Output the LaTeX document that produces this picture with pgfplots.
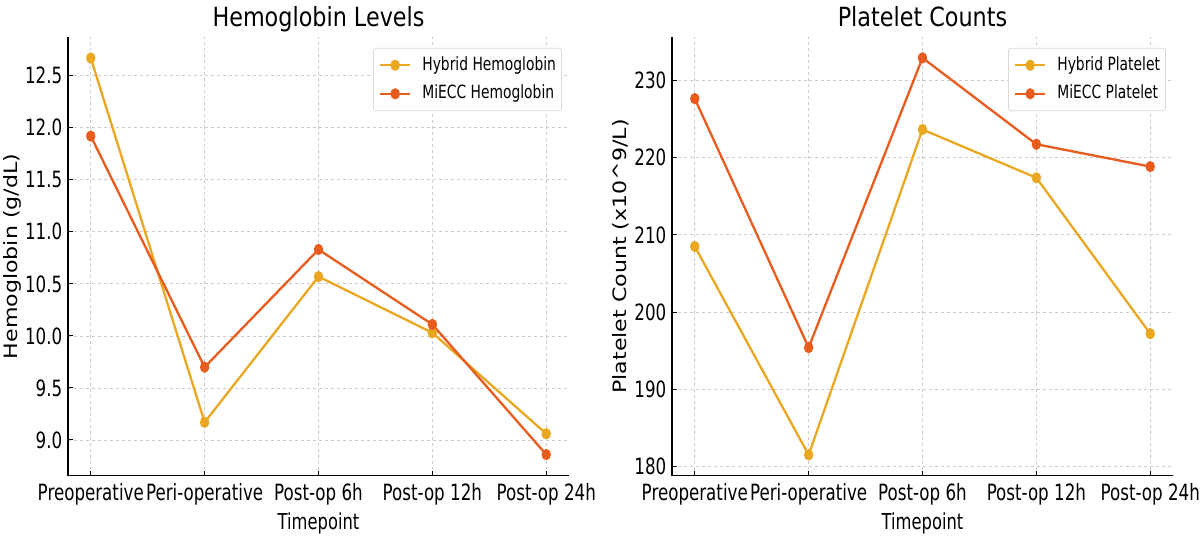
\documentclass[border=0pt]{standalone}
\usepackage{pgfplots}
\pgfplotsset{compat=1.18}
\usepackage{fontspec}
\setmainfont{DejaVu Sans}
\newfontfamily\hfont[FakeStretch=0.745]{DejaVu Sans}
\newfontfamily\tfont[FakeStretch=0.845]{DejaVu Sans}
\newfontfamily\lfont[FakeStretch=0.76]{DejaVu Sans}
\newfontfamily\vfont[FakeStretch=1.2]{DejaVu Sans}
\definecolor{hyb}{RGB}{234,167,34}
\definecolor{mie}{RGB}{232,92,30}
\definecolor{gridc}{RGB}{204,204,204}
\pgfplotsset{
  mystyle/.style={
    scale only axis, width=501bp, height=438.4bp, anchor=south west,
    axis x line*=bottom, axis y line*=left,
    axis line style={line width=1.3bp, black, -},
    xmin=-0.2, xmax=4.2, xtick={0,1,2,3,4},
    xticklabels={Preoperative,Peri-operative,Post-op 6h,Post-op 12h,Post-op 24h},
    grid=major, major grid style={dashed, gridc, line width=0.8bp},
    tick align=inside, major tick length=5bp, tick style={black, line width=1bp},
    ticklabel style={font=\hfont\fontsize{22.5}{26}\selectfont},
    /pgf/number format/assume math mode=true,
    xticklabel style={anchor=base, yshift=-24.3bp, inner sep=0pt},
    yticklabel style={anchor=east, inner sep=0pt, xshift=-5.5bp},
    every axis title/.style={font=\tfont\fontsize{26.5}{32}\selectfont, at={(axis description cs:0.5,1)}, anchor=base, yshift=10.6bp},
    every axis x label/.style={font=\hfont\fontsize{22}{26}\selectfont, at={(axis description cs:0.5,0)}, anchor=base, yshift=-53.6bp},
    xlabel={Timepoint},
    legend style={at={(0.986,0.976)}, anchor=north east,
      font=\lfont\fontsize{18.3}{22}\selectfont, draw=black!15, rounded corners=2.5bp,
      fill=white, inner xsep=5.6bp, inner ysep=8bp, row sep=10.6bp, column sep=11bp, line width=0.8bp,
      nodes={inner sep=0pt, text height=14bp, text depth=4bp}},
    legend cell align=left,
    legend image code/.code={\draw[mark repeat=2,mark phase=2] plot coordinates {(0bp,0bp)(15bp,0bp)(30bp,0bp)};},
    clip=false,
  },
  hybst/.style={color=hyb, line width=2.3bp, mark=*, mark size=4.4bp, mark options={xscale=0.8, solid, fill=hyb, draw=hyb}},
  miest/.style={color=mie, line width=2.3bp, mark=*, mark size=4.4bp, mark options={xscale=0.8, solid, fill=mie, draw=mie}},
}
\begin{document}
\begin{tikzpicture}
\path[use as bounding box] (0,0) rectangle (1200bp,538bp);
\begin{axis}[mystyle, at={(68bp,62.3bp)},
  ymin=8.657, ymax=12.869, ytick={9,9.5,10,10.5,11,11.5,12,12.5},
  yticklabel style={/pgf/number format/.cd, fixed, fixed zerofill, precision=1},
  title={Hemoglobin Levels},
  ylabel={Hemoglobin (g/dL)},
  ylabel style={font=\vfont\fontsize{18.5}{22}\selectfont, at={([xshift=-50.7bp]axis description cs:0,0.5)}, anchor=base},
]
\addplot[hybst] coordinates {(0,12.67)(1,9.17)(2,10.57)(3,10.03)(4,9.06)};
\addlegendentry{Hybrid Hemoglobin}
\addplot[miest] coordinates {(0,11.92)(1,9.70)(2,10.83)(3,10.11)(4,8.86)};
\addlegendentry{MiECC Hemoglobin}
\end{axis}
\begin{axis}[mystyle, at={(672bp,62.3bp)},
  ymin=178.8, ymax=235.6, ytick={180,190,200,210,220,230},
  title={Platelet Counts},
  ylabel={Platelet Count (x10\textasciicircum 9/L)},
  ylabel style={font=\vfont\fontsize{18.5}{22}\selectfont, at={([xshift=-46bp]axis description cs:0,0.5)}, anchor=base},
]
\addplot[hybst] coordinates {(0,208.5)(1,181.5)(2,223.65)(3,217.4)(4,197.2)};
\addlegendentry{Hybrid Platelet}
\addplot[miest] coordinates {(0,227.65)(1,195.4)(2,232.93)(3,221.74)(4,218.85)};
\addlegendentry{MiECC Platelet}
\end{axis}
\end{tikzpicture}
\end{document}
